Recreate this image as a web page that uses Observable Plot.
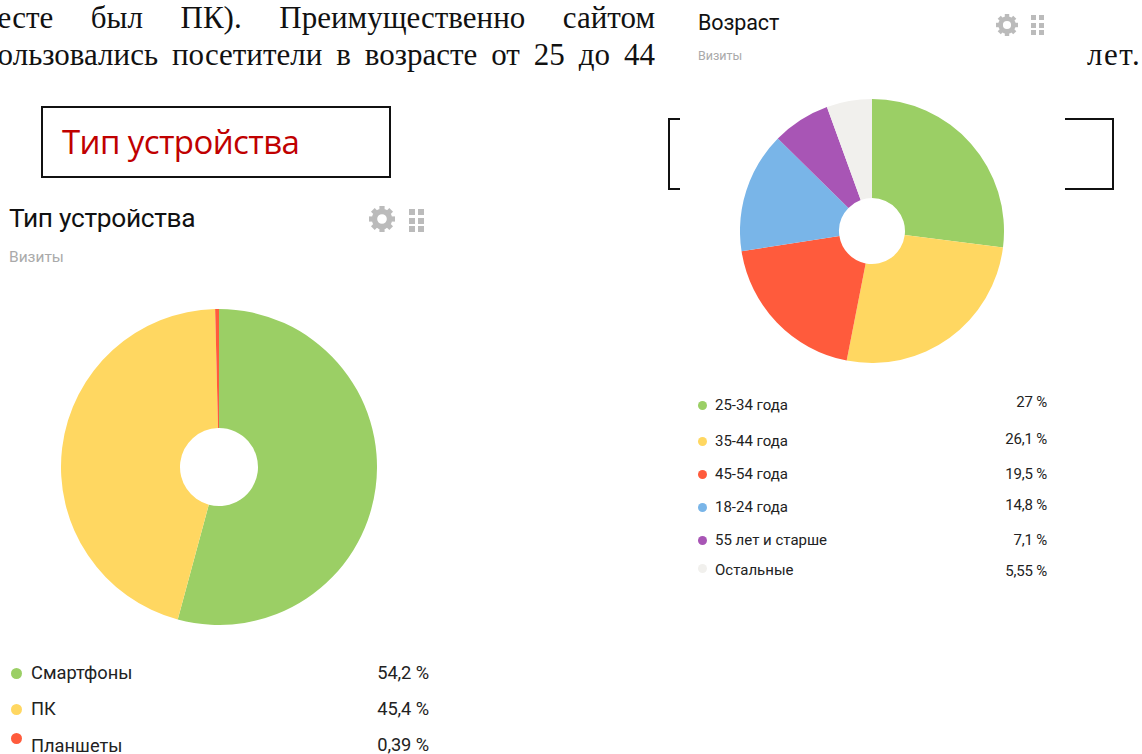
<!DOCTYPE html>
<html lang="ru">
<head>
<meta charset="utf-8">
<script src="https://cdn.jsdelivr.net/npm/d3@7"></script>
<script src="https://cdn.jsdelivr.net/npm/@observablehq/plot@0.6"></script>
<style>
html,body{margin:0;padding:0;background:#fff;overflow:hidden}
#page{position:relative;width:1142px;height:754px;overflow:hidden;background:#fff}
.abs{position:absolute;white-space:nowrap}
.para{font-family:"Liberation Serif",serif;font-size:31px;color:#111;line-height:37px}
.just{text-align:justify;text-align-last:justify;white-space:normal}
.box{position:absolute;border:2px solid #111;box-sizing:border-box}
.red{font-family:"Open Sans",sans-serif;color:#c00000;font-size:33px;letter-spacing:-.6px}
.ttl{font-family:Roboto,sans-serif;color:#111}
.sub{font-family:Roboto,sans-serif;color:#aaa}
.leg{font-family:Roboto,sans-serif;color:#222}
.card{position:absolute;background:#fff}
</style>
</head>
<body>
<div id="page"></div>
<script>
const deviceLabels = ["Смартфоны", "ПК", "Планшеты"];
const deviceValues = [54.2, 45.4, 0.39];
const deviceText = ["54,2 %", "45,4 %", "0,39 %"];
const deviceColors = ["#9bcf65", "#ffd761", "#ff5b3c"];

const ageLabels = ["25-34 года", "35-44 года", "45-54 года", "18-24 года", "55 лет и старше", "Остальные"];
const ageValues = [27, 26.1, 19.5, 14.8, 7.1, 5.55];
const ageText = ["27 %", "26,1 %", "19,5 %", "14,8 %", "7,1 %", "5,55 %"];
const ageColors = ["#9bcf65", "#ffd761", "#ff5b3c", "#79b5e8", "#a855b5", "#f1f0ed"];

const page = document.getElementById("page");
function el(cls, css, text) {
  const d = document.createElement("div");
  d.className = cls;
  d.style.cssText = css;
  if (text != null) d.textContent = text;
  page.appendChild(d);
  return d;
}

// A pie drawn from a stacked bar: the x scale maps the cumulative share to an angle.
function pie(labels, values, colors, outer, inner) {
  const data = labels.map((label, i) => ({label, value: values[i]}));
  return Plot.plot({
    width: outer * 2, height: outer * 2,
    margin: 0,
    style: {background: "transparent", position: "absolute"},
    x: {domain: [0, d3.sum(values)], range: [0, 2 * Math.PI], axis: null},
    color: {domain: labels, range: colors},
    marks: [
      Plot.barX(data, Plot.stackX({
        x: "value",
        fill: "label",
        render(index, scales, v, dims) {
          const g = d3.create("svg:g").attr("transform", `translate(${dims.width / 2},${dims.height / 2})`);
          const arc = d3.arc().innerRadius(inner).outerRadius(outer);
          for (const i of index) {
            g.append("path")
              .attr("d", arc({startAngle: v.x1[i], endAngle: v.x2[i]}))
              .attr("fill", v.fill[i]);
          }
          return g.node();
        }
      }))
    ]
  });
}

function gear(cx, cy, r) {
  const s = d3.create("svg").attr("width", r * 2 + 4).attr("height", r * 2 + 4)
    .style("position", "absolute").style("left", (cx - r - 2) + "px").style("top", (cy - r - 2) + "px");
  const c = r + 2;
  s.append("circle").attr("cx", c).attr("cy", c).attr("r", r * 0.58).attr("fill", "none").attr("stroke", "#bbb").attr("stroke-width", r * 0.42);
  const g = s.append("g").attr("fill", "#bbb");
  for (let k = 0; k < 8; k++) g.append("rect").attr("x", c - r * 0.2).attr("y", c - r).attr("width", r * 0.4).attr("height", r * 0.45).attr("transform", `rotate(${k * 45} ${c} ${c})`);
  page.appendChild(s.node());
}
function dots(x, y, size, gap) {
  for (let r = 0; r < 3; r++) for (let q = 0; q < 2; q++)
    el("abs", `left:${x + q * (size + gap)}px;top:${y + r * (size + gap)}px;width:${size}px;height:${size}px;background:#bbb`);
}

// paragraph fragments
el("abs para just", "left:-22px;top:-1px;width:677px", "месте был ПК). Преимущественно сайтом");
el("abs para just", "left:-19px;top:36px;width:674px", "пользовались посетители в возрасте от 25 до 44");
el("abs para", "left:1087px;top:36px;letter-spacing:1.5px", "лет.");

// framed headings
el("box", "left:41px;top:106px;width:350px;height:72px");
el("abs red", "left:62px;top:119px", "Тип устройства");
el("box", "left:668px;top:118px;width:446px;height:72px");
el("card", "left:680px;top:0;width:385px;height:400px");

// device card
el("abs ttl", "left:9px;top:203px;font-size:26.3px;letter-spacing:-.3px", "Тип устройства");
el("abs sub", "left:9px;top:248px;font-size:15.5px", "Визиты");
gear(382, 219, 13);
dots(409, 209, 6, 2.5);
const p1 = pie(deviceLabels, deviceValues, deviceColors, 158, 39);
p1.style.left = (219 - 158) + "px"; p1.style.top = (467 - 158) + "px";
page.appendChild(p1);

// age card
el("abs ttl", "left:698px;top:10px;font-size:21.5px;letter-spacing:-.1px", "Возраст");
el("abs sub", "left:698px;top:48px;font-size:12.5px", "Визиты");
gear(1007, 25, 11);
dots(1031, 15, 5, 2.5);
const p2 = pie(ageLabels, ageValues, ageColors, 132, 33);
p2.style.left = (871.5 - 132) + "px"; p2.style.top = (231 - 132) + "px";
page.appendChild(p2);

// legends
const deviceRows = [{d: 673, l: 673, v: 673}, {d: 709, l: 709, v: 709}, {d: 738, l: 746, v: 745}];
deviceLabels.forEach((t, i) => {
  const r = deviceRows[i];
  el("abs", `left:11px;top:${r.d - 5.5}px;width:11px;height:11px;border-radius:50%;background:${deviceColors[i]}`);
  el("abs leg", `left:31px;top:${r.l - 10}px;font-size:18.3px;line-height:20px`, t);
  el("abs leg", `right:${1142 - 429}px;top:${r.v - 10}px;font-size:18.3px;line-height:20px;letter-spacing:-.1px`, deviceText[i]);
});
const ageRows = [{d: 405, v: 402}, {d: 441, v: 439}, {d: 474, v: 474}, {d: 507, v: 505}, {d: 540, v: 540}, {d: 568, v: 571}];
const ageLabelY = [405, 441, 474, 507, 540, 570];
ageLabels.forEach((t, i) => {
  const r = ageRows[i];
  el("abs", `left:698px;top:${r.d - 4.5}px;width:9px;height:9px;border-radius:50%;background:${ageColors[i]}`);
  el("abs leg", `left:715px;top:${ageLabelY[i] - 9}px;font-size:15px;line-height:18px`, t);
  el("abs leg", `right:${1142 - 1047}px;top:${r.v - 9}px;font-size:15px;line-height:18px;letter-spacing:-.2px`, ageText[i]);
});
</script>
</body>
</html>
